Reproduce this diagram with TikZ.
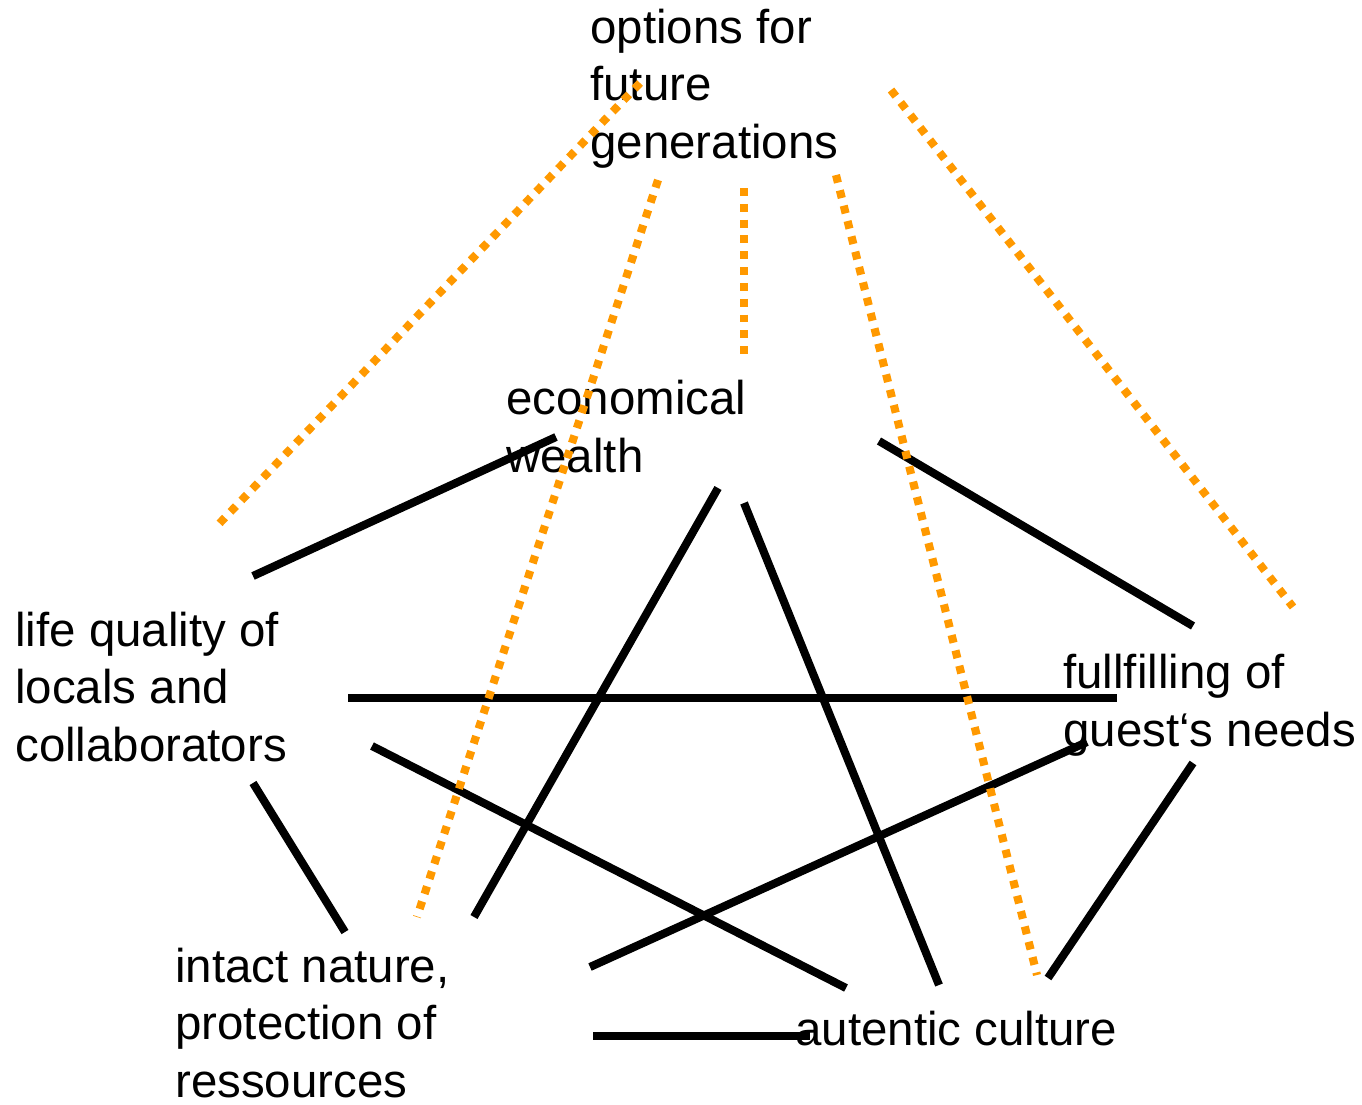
\documentclass[tikz,border=0pt]{standalone}
\usepackage{fontspec}
\setmainfont{Liberation Sans}
\definecolor{futureorange}{HTML}{FF9900}

\begin{document}
\begin{tikzpicture}[x=0.02cm,y=-0.02cm,
  lbl/.style={anchor=base west, align=left, inner sep=0pt, font=\fontsize{27}{32.6}\selectfont},
  link/.style={black, line width=4.6pt},
  trend/.style={futureorange, line width=4.6pt, dash pattern=on 4.5pt off 4.5pt}]
\useasboundingbox (0,0) rectangle (1362,1105);

% the six goals (placed at the baseline of their last line)
\node[lbl] (options) at (590,158) {options for\\future\\generations};
\node[lbl] (wealth) at (506,472) {economical\\wealth};
\node[lbl] (locals) at (15,761) {life quality of\\locals and\\collaborators};
\node[lbl] (guests) at (1063,746) {fullfilling of\\guest`s needs};
\node[lbl] (nature) at (175,1097) {intact nature,\\protection of\\ressources};
\node[lbl] (culture) at (795,1045) {autentic culture};

% ends of the links
\coordinate (w-l) at (556,437);  \coordinate (w-r) at (879,441);
\coordinate (w-b1) at (718,488); \coordinate (w-b2) at (744,503);
\coordinate (l-t) at (253,576);  \coordinate (l-r) at (348,698);
\coordinate (l-d) at (372,746);  \coordinate (l-b) at (253,783);
\coordinate (g-t) at (1193,626); \coordinate (g-l) at (1117,698);
\coordinate (g-d) at (1087,742); \coordinate (g-b) at (1193,763);
\coordinate (n-t) at (345,932);  \coordinate (n-r) at (474,917);
\coordinate (n-u) at (590,967);  \coordinate (n-b) at (593,1036);
\coordinate (c-l) at (810,1036); \coordinate (c-t1) at (846,988);
\coordinate (c-t2) at (939,985); \coordinate (c-r) at (1048,978);

\draw[link] (l-t) -- (w-l);
\draw[link] (w-r) -- (g-t);
\draw[link] (l-r) -- (g-l);
\draw[link] (w-b1) -- (n-r);
\draw[link] (w-b2) -- (c-t2);
\draw[link] (l-d) -- (c-t1);
\draw[link] (g-d) -- (n-u);
\draw[link] (g-b) -- (c-r);
\draw[link] (l-b) -- (n-t);
\draw[link] (n-b) -- (c-l);

% dotted lines down from the future generations
\coordinate (o-1) at (640,83);  \coordinate (o-2) at (658,180);
\coordinate (o-3) at (744,188); \coordinate (o-4) at (836,175);
\coordinate (o-5) at (891,90);
\coordinate (f-1) at (216,527); \coordinate (f-2) at (417,917);
\coordinate (f-3) at (744,356); \coordinate (f-4) at (1037,975);
\coordinate (f-5) at (1293,607);
\foreach \i in {1,...,5}
  \draw[trend] (o-\i) -- (f-\i);
\end{tikzpicture}
\end{document}
